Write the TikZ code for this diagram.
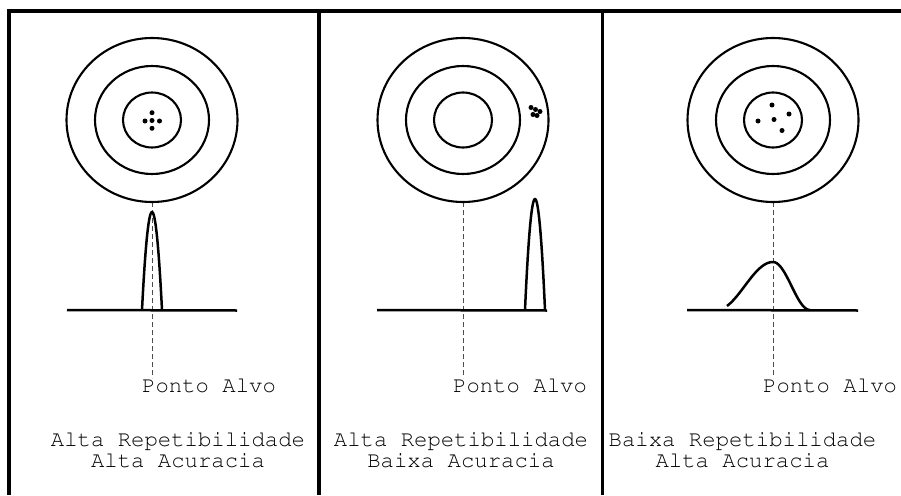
\documentclass[tikz,border=0pt]{standalone}
\usepackage[T1]{fontenc}
\usepackage{courier}
\usepackage{tikz}
\usetikzlibrary{calc}
\tikzset{
	rahmen/.style={line width=3.2pt},
	ring/.style={line width=2.1pt},
	kurve/.style={line width=2.5pt},
	mittel/.style={gray!60!black, line width=0.9pt, dash pattern=on 5pt off 3pt},
	schuss/.style={fill=black},
	beschrift/.style={font=\ttfamily\fontsize{22.3}{21.3}\selectfont, inner sep=0pt, align=center}
}

\begin{document}
\begin{tikzpicture}[x=1pt, y=-1pt]

	\useasboundingbox (0,0) rectangle (901,495);

	% frame
	\draw[rahmen] (901,11) -- (9,11) -- (9,495);
	\draw[rahmen] (319,11) -- (319,495);
	\draw[rahmen] (602.5,11) -- (602.5,495);

	\begin{scope}[shift={(152,0)}]
		\draw[mittel] (0,202) -- (0,378);
		\foreach \r/\s in {85.5/82, 57/54, 29/27.5}
			\draw[ring] (0,120) ellipse [x radius=\r, y radius=\s];
		\foreach \p in {(0,112.7), (-7,121), (7.5,121), (0,128.3), (0,120.5)}
			\fill[schuss] \p circle (2.5);
		\draw[kurve] (-85,310) -- (85,310.5);
		\draw[kurve,smooth,domain=-10:10,samples=40] plot (\x,{310-98*(1-(\x/10)^2)});
		\node[beschrift, anchor=base west] (ziel-a) at (-10,392) {Ponto Alvo};
		\node[beschrift] (text-a) at (26,450) {Alta Repetibilidade\\Alta Acuracia};
	\end{scope}

	\begin{scope}[shift={(463,0)}]
		\draw[mittel] (0,202) -- (0,378);
		\foreach \r/\s in {85.5/82, 57/54, 29/27.5}
			\draw[ring] (0,120) ellipse [x radius=\r, y radius=\s];
		\foreach \p in {(68,107.5), (72.5,109.5), (77,111.5), (70,114.5), (74,115.5)}
			\fill[schuss] \p circle (2.5);
		\draw[kurve] (-86,310) -- (84,310.5);
		\draw[kurve,smooth,domain=-10:10,samples=40] plot ({72+\x},{310-111*(1-(\x/10)^2)});
		\node[beschrift, anchor=base west] (ziel-b) at (-10,392) {Ponto Alvo};
		\node[beschrift] (text-b) at (-2,450) {Alta Repetibilidade\\Baixa Acuracia};
	\end{scope}

	\begin{scope}[shift={(773,0)}]
		\draw[mittel] (0,202) -- (0,378);
		\foreach \r/\s in {85.5/82, 57/54, 29/27.5}
			\draw[ring] (0,120) ellipse [x radius=\r, y radius=\s];
		\foreach \p in {(-1,105), (16,114), (-15,121), (1,119.5), (9,130.5)}
			\fill[schuss] \p circle (2.5);
		\draw[kurve] (-86,310) -- (85,310.5);
		\draw[kurve,smooth,domain=-46:0,samples=30] plot (\x,{310-48*cos(90*\x/56.6)^2});
		\draw[kurve,smooth,domain=0:37,samples=30] plot (\x,{310-48*cos(90*\x/37)^2});
		\node[beschrift, anchor=base west] (ziel-c) at (-10,392) {Ponto Alvo};
		\node[beschrift] (text-c) at (-30.5,450) {Baixa Repetibilidade\\Alta Acuracia};
	\end{scope}

\end{tikzpicture}
\end{document}
